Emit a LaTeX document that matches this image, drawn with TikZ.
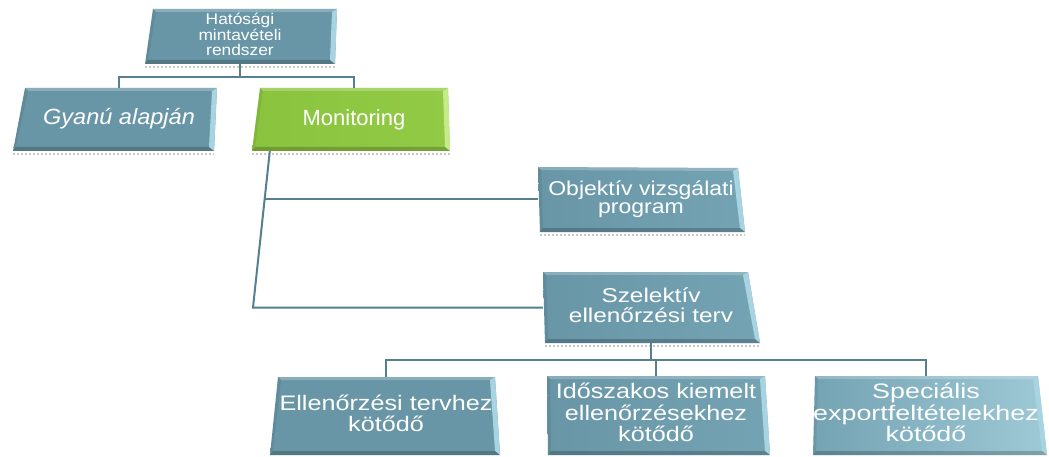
\documentclass[tikz,border=0pt]{standalone}
\usepackage{fontspec}
\setmainfont{Liberation Sans}
\usepackage{graphicx}
\usetikzlibrary{calc}
\definecolor{tealA}{RGB}{104,150,166}
\definecolor{tealB}{RGB}{116,163,179}
\definecolor{tealC}{RGB}{158,201,214}
\definecolor{tealL}{RGB}{168,211,224}
\definecolor{greenA}{RGB}{138,196,62}
\definecolor{greenB}{RGB}{146,202,70}
\definecolor{greenL}{RGB}{196,234,140}
\definecolor{linec}{RGB}{84,128,143}
\definecolor{shadowc}{RGB}{200,200,200}
\newcommand\stretched[2]{\scalebox{#1}[1]{\begin{tabular}{@{}c@{}}#2\end{tabular}}}
\newcommand\bevbox[8]{%
  \coordinate (#1-a) at #2; \coordinate (#1-b) at #3;
  \coordinate (#1-c) at #4; \coordinate (#1-d) at #5;
  \draw[shadowc,line width=2pt,dotted] ($(#1-d)+(0,3)$) -- ($(#1-c)+(0,3)$);
  \shade[left color=#6,right color=#7] (#1-a)--(#1-b)--(#1-c)--(#1-d)--cycle;
  \fill[white,opacity=0.22] (#1-a)--(#1-b)--($(#1-b)+(-5,3)$)--($(#1-a)+(3,3)$)--cycle;
  \fill[#8] (#1-b)--(#1-c)--($(#1-c)+(-5,-4)$)--($(#1-b)+(-5,3)$)--cycle;
  \fill[black,opacity=0.2] (#1-d)--(#1-c)--($(#1-c)+(-5,-4)$)--($(#1-d)+(3,-4)$)--cycle;
  \fill[black,opacity=0.07] (#1-a)--(#1-d)--($(#1-d)+(3,-4)$)--($(#1-a)+(3,3)$)--cycle;
}
\tikzset{
  txt/.style={text=white, inner sep=0pt, align=center, draw=none},
  conn/.style={draw=linec, line width=2pt}
}
\begin{document}
\begin{tikzpicture}[x=1pt,y=-1pt]
\useasboundingbox (0,0) rectangle (1049,457);
\fill[white] (0,0) rectangle (1049,457);
% boxes
\bevbox{top}{(153,9)}{(337,9)}{(335,64)}{(145,64)}{tealA}{tealA}{tealL}
\bevbox{gy}{(25,88)}{(217,88)}{(214,151)}{(13,151)}{tealA}{tealA}{tealL}
\bevbox{mo}{(260,88)}{(448,88)}{(450,151)}{(252,151)}{greenA}{greenB}{greenL}
\bevbox{ob}{(538,167)}{(738,168)}{(745,232)}{(540,232)}{tealA}{tealB}{tealL}
\bevbox{sz}{(543,272)}{(748,272)}{(760,343)}{(545,343)}{tealA}{tealB}{tealL}
\bevbox{el}{(278,377)}{(495,377)}{(500,455)}{(270,455)}{tealA}{tealA}{tealL}
\bevbox{id}{(547,376)}{(765,376)}{(770,455)}{(548,455)}{tealA}{tealB}{tealL}
\bevbox{sp}{(815,376)}{(1038,376)}{(1047,455)}{(813,455)}{tealB}{tealC}{tealL}
% text nodes
\node[txt, minimum width=184pt, minimum height=55pt, font=\fontsize{15.5}{14}\selectfont] (top) at (240,36.5)
  {\stretched{1.12}{Hatósági\\mintavételi\\rendszer}};
\node[txt, minimum width=192pt, minimum height=63pt, font=\fontsize{22}{22}\selectfont\itshape] (gyanu) at (119,119.5)
  {\stretched{1.07}{Gyanú alapján}};
\node[txt, minimum width=188pt, minimum height=63pt, font=\fontsize{22}{22}\selectfont] (monit) at (354,119.5)
  {Monitoring};
\node[txt, minimum width=206pt, minimum height=65pt, font=\fontsize{20}{18}\selectfont] (obj) at (641,199.5)
  {\stretched{1.15}{Objektív vizsgálati\\program}};
\node[txt, minimum width=216pt, minimum height=71pt, font=\fontsize{20}{18}\selectfont] (szel) at (651,307.5)
  {\stretched{1.22}{Szelektív\\ellenőrzési terv}};
\node[txt, minimum width=217pt, minimum height=78pt, font=\fontsize{21}{20}\selectfont] (ell) at (386,416)
  {\stretched{1.2}{Ellenőrzési tervhez\\kötődő}};
\node[txt, minimum width=218pt, minimum height=79pt, font=\fontsize{21}{21}\selectfont] (ido) at (656,415.5)
  {\stretched{1.2}{Időszakos kiemelt\\ellenőrzésekhez\\kötődő}};
\node[txt, minimum width=223pt, minimum height=79pt, font=\fontsize{21}{20}\selectfont] (spec) at (926,415.5)
  {\stretched{1.28}{Speciális\\exportfeltételekhez\\kötődő}};
% connectors
\draw[conn] (top.south) -- ++(0,13) -| (gyanu.north);
\draw[conn] (top.south) -- ++(0,13) -| (monit.north);
\coordinate (m1) at ($(monit.south west)+(10,0)$);
\coordinate (m2) at (253,307.5);
\coordinate (mj) at ($(m1)!0.31!(m2)$);
\draw[conn] (m1) -- (m2) -- (szel.west);
\draw[conn] (obj.west) -- (obj.west -| mj);
\draw[conn] (szel.south) -- ++(0,17) -| (ell.north);
\draw[conn] (szel.south) -- ++(0,17) -| (ido.north);
\draw[conn] (szel.south) -- ++(0,17) -| (spec.north);
\end{tikzpicture}
\end{document}
